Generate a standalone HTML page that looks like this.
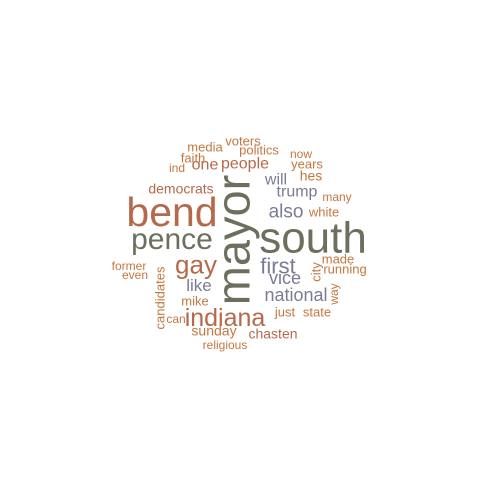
<!DOCTYPE html>
<html><head><meta charset="utf-8"><style>
html,body{margin:0;padding:0;background:#fff;width:480px;height:480px;overflow:hidden}
text{font-family:"Liberation Sans",sans-serif}
</style></head><body>
<svg id="cloud" width="480" height="480" viewBox="0 0 480 480"></svg>
<script>
const words=["mayor","south","bend","pence","gay","indiana","first","national","vice","also","trump","will","like","people","one","democrats","media","faith","ind","voters","politics","now","years","hes","many","white","made","running","city","way","state","just","chasten","sunday","religious","mike","can","candidates","former","even"];
const sizes=[47,44,41,30,26,25,22,18,18,19,16,16,17,16,16,14,13,13,12,13,13,12,13,14,12,13,13,13,13,12,13,13,14,14,12,13,12,13,12,12];
const xs=[233,313,172,172,196,225,278,296,285,286,297,276,199,245,205,181,205,193,177,243,259,301,307,311,337,324,338,345,316,334,317,285,273,214,225,195,176,160,129,135];
const ys=[240,252,225,249,273,326,273,301,284,218,197,185,291,169,170,193,151,162,172,145,154,158,168,180,201,216,263,273,272,294,316,316,338,335,349,305,323,298,270,279];
const rot=[1,0,0,0,0,0,0,0,0,0,0,0,0,0,0,0,0,0,0,0,0,0,0,0,0,0,0,0,1,1,0,0,0,0,0,0,0,1,0,0];
const cols=["#6b705e","#6b705e","#b5694a","#6b705e","#b5694a","#b5694a","#7a7b96","#7a7b96","#7a7b96","#7a7b96","#7a7b96","#7a7b96","#7a7b96","#b5694a","#b5694a","#b5694a","#c47740","#c47740","#c47740","#c47740","#c47740","#c47740","#c47740","#c47740","#c47740","#c47740","#c47740","#c47740","#c47740","#c47740","#c47740","#c47740","#b5694a","#c47740","#c47740","#c47740","#c47740","#c47740","#c47740","#c47740"];
const svg=document.getElementById('cloud');
const NS="http://www.w3.org/2000/svg";
words.forEach((w,i)=>{
  const t=document.createElementNS(NS,'text');
  
  
  t.setAttribute('text-anchor','middle');
  t.setAttribute('dominant-baseline','central');
  t.setAttribute('font-size',sizes[i]);
  t.setAttribute('fill',cols[i]);
  t.setAttribute('transform','translate('+xs[i]+','+ys[i]+')'+(rot[i]?' rotate(-90)':''));
  if(!rot[i]) t.setAttribute('transform','translate('+xs[i]+','+(ys[i]-sizes[i]*0.32)+')');
  t.textContent=w;
  svg.appendChild(t);
});
</script>
</body></html>
